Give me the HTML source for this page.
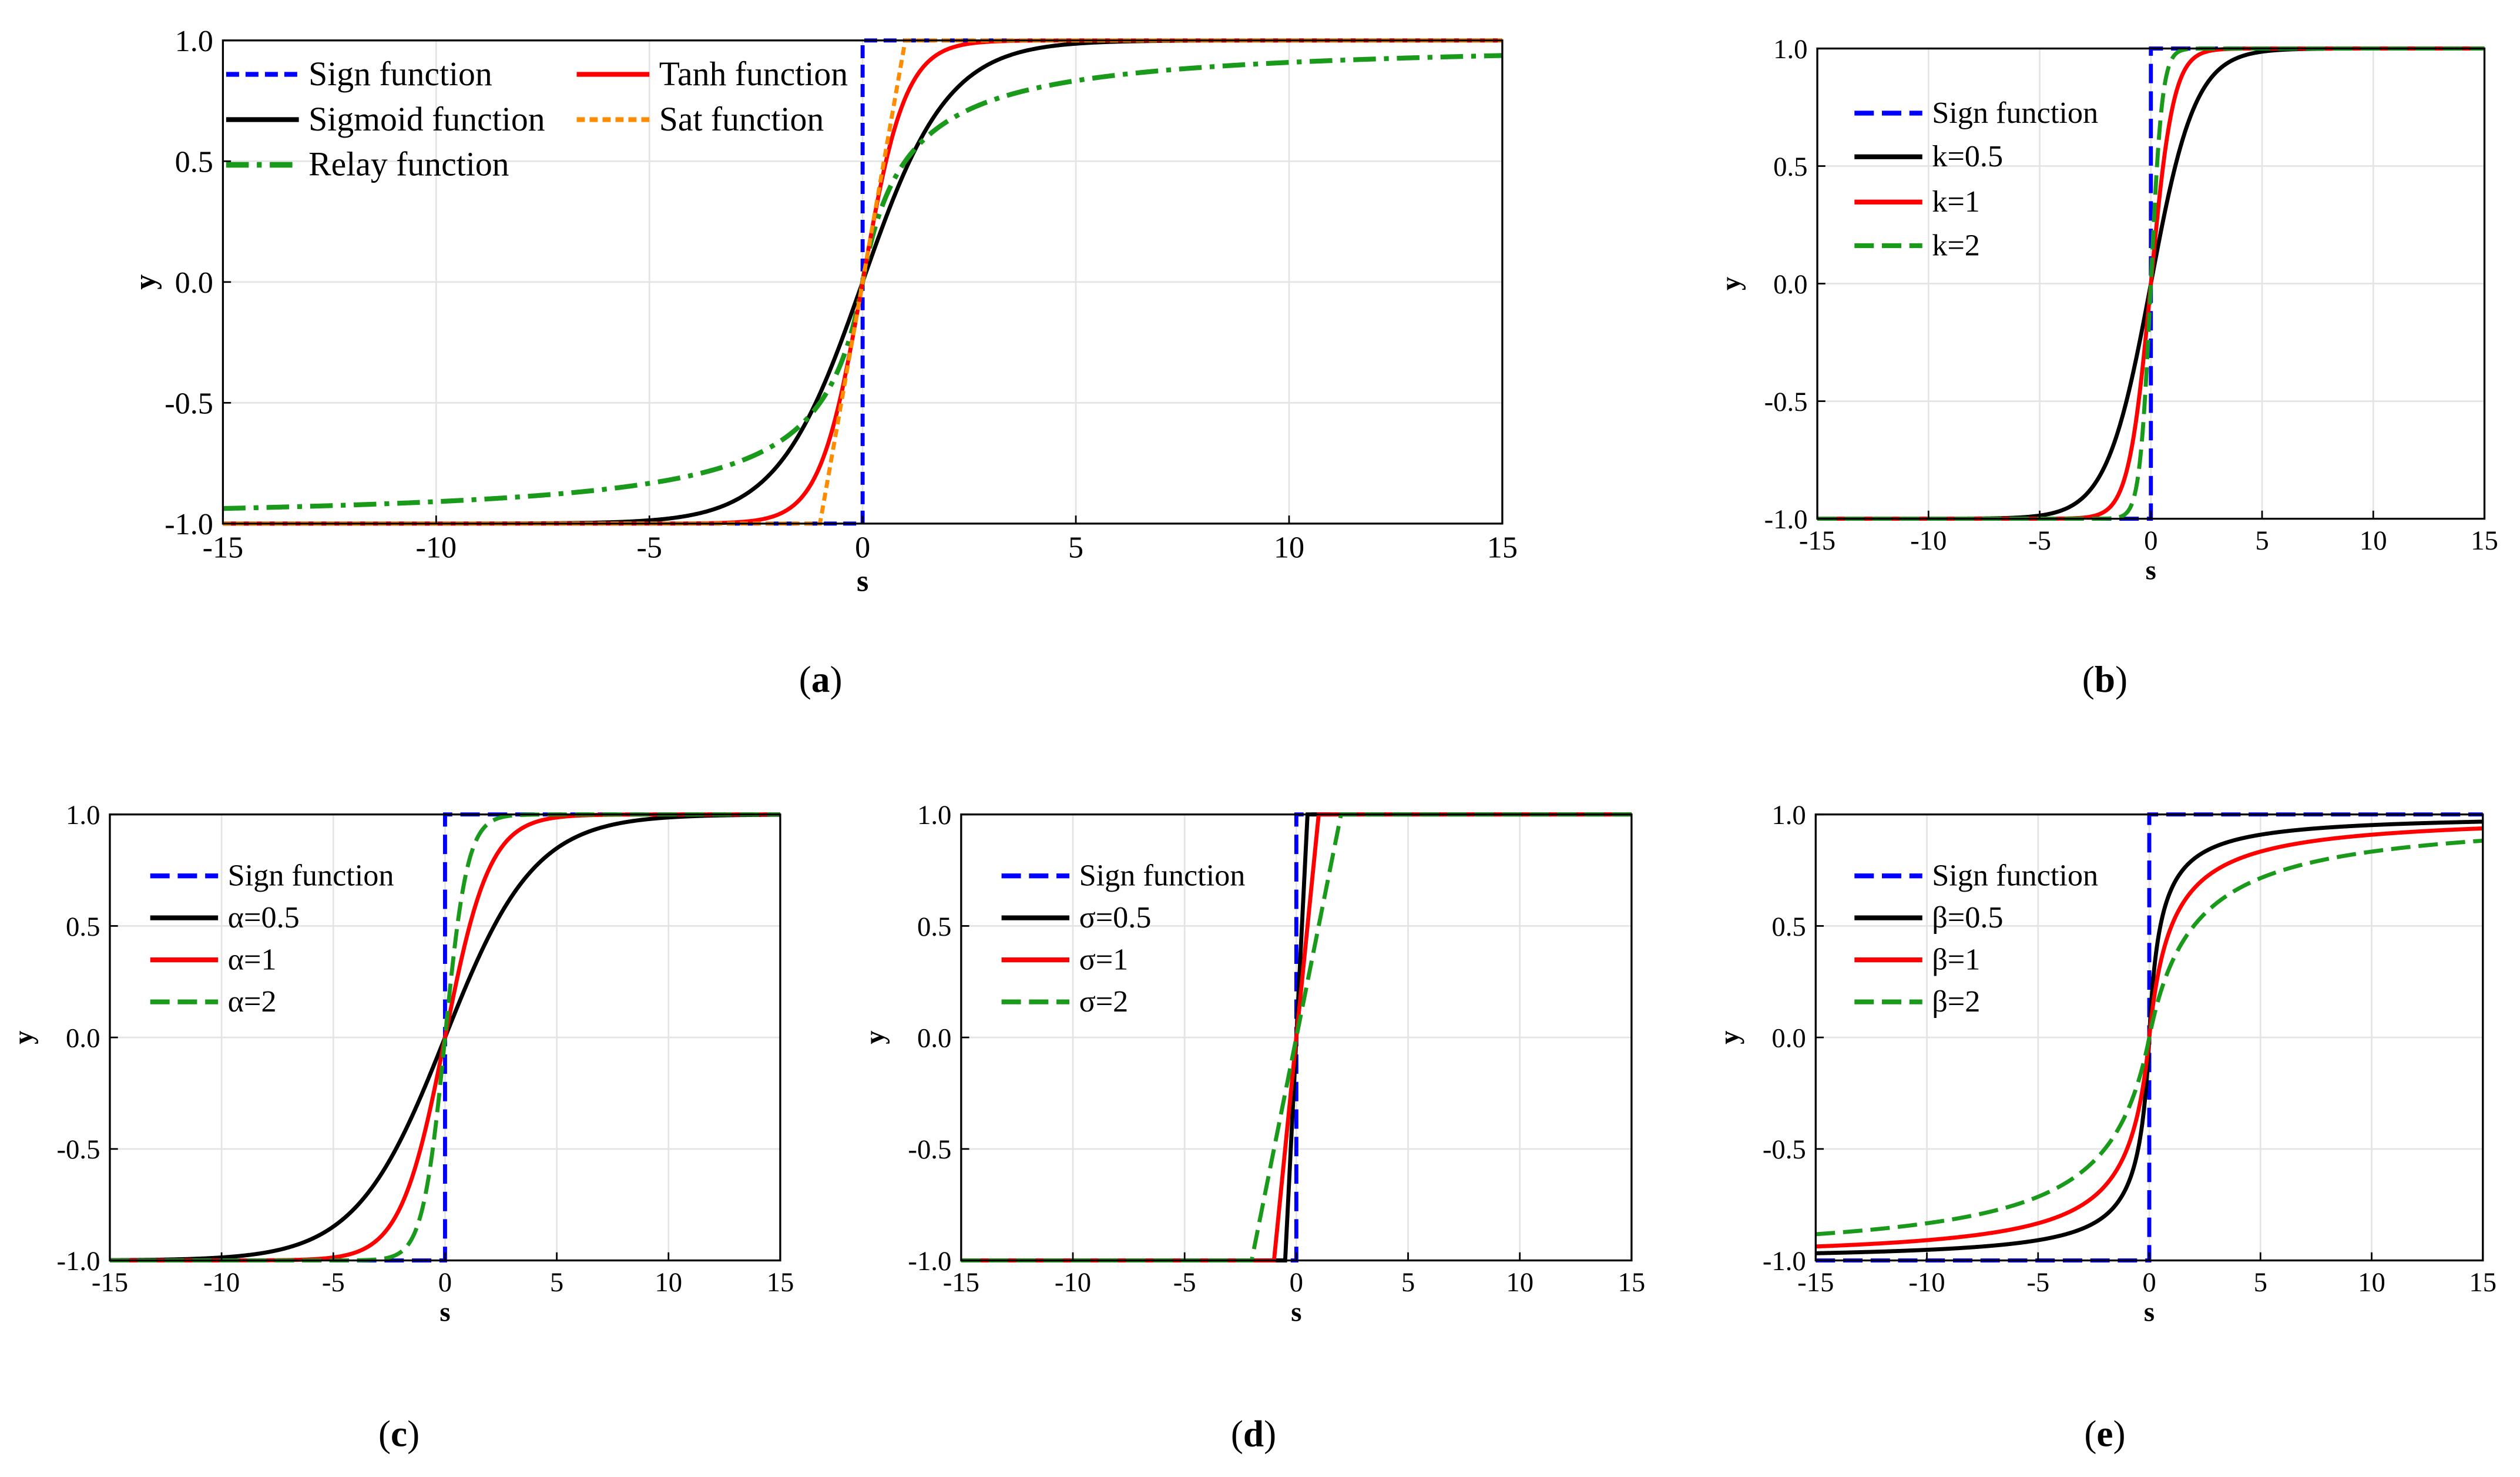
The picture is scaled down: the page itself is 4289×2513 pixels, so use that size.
<!DOCTYPE html>
<html><head><meta charset="utf-8"><style>
html,body{margin:0;padding:0;background:#fff}
svg{display:block}
text{font-family:"Liberation Serif",serif;fill:#000}
</style></head><body>
<svg id="fig" width="4289" height="2513" viewBox="0 0 1560 914" xmlns="http://www.w3.org/2000/svg"></svg>
<script>
// ---- data arrays ----
const xTicks = [-15,-10,-5,0,5,10,15];
const yTicks = [-1.0,-0.5,0.0,0.5,1.0];
const yTickLabels = ["-1.0","-0.5","0.0","0.5","1.0"];
const kValues = [0.5,1,2];
const alphaValues = [0.5,1,2];
const sigmaValues = [0.5,1,2];
const betaValues = [0.5,1,2];
const relayDelta = [1];
const panelLetters = ["a","b","c","d","e"];

const NS="http://www.w3.org/2000/svg";
const svg=document.getElementById('fig');
function el(tag,attrs,parent){const e=document.createElementNS(NS,tag);for(const k in attrs)e.setAttribute(k,attrs[k]);(parent||svg).appendChild(e);return e;}

const sign=s=>s>0?1:(s<0?-1:0);
const clip=v=>Math.max(-1,Math.min(1,v));

const panels=[
 {id:'a',x0:138,x1:930,y0:25,y1:324,fs:19,lab:[508,428],
  series:[
   {name:'Sign function',color:'#0000ff',dash:'8,4',w:2.5,f:sign,sign:true},
   {name:'Sigmoid function',color:'#000',dash:'',w:2.5,f:s=>Math.tanh(s/2)},
   {name:'Relay function',color:'#1a9a1a',dash:'14,5,3,5',w:3,f:s=>s/(Math.abs(s)+relayDelta[0])},
   {name:'Tanh function',color:'#ff0000',dash:'',w:2.5,f:s=>Math.tanh(s)},
   {name:'Sat function',color:'#ff8c00',dash:'5,3',w:2.5,f:s=>clip(s)}],
  legend:[[140,46],[140,74],[140,102],[357,46],[357,74]],ll:45},
 {id:'b',x0:1125,x1:1538,y0:30,y1:321,fs:17,lab:[1303,428],
  series:[
   {name:'Sign function',color:'#0000ff',dash:'12,5',w:2.5,f:sign,sign:true},
   ...kValues.map((k,i)=>({name:'k='+k,color:['#000','#ff0000','#1a9a1a'][i],dash:['','','12,5'][i],w:2.5,f:s=>Math.tanh(k*s)}))],
  legend:[[1148,70],[1148,97],[1148,125],[1148,152]],ll:42},
 {id:'c',x0:68,x1:483,y0:504,y1:780,fs:17,lab:[247,895],
  series:[
   {name:'Sign function',color:'#0000ff',dash:'12,5',w:2.5,f:sign,sign:true},
   ...alphaValues.map((a,i)=>({name:'α='+a,color:['#000','#ff0000','#1a9a1a'][i],dash:['','','12,5'][i],w:2.5,f:s=>Math.tanh(a*s/2)}))],
  legend:[[93,542],[93,568],[93,594],[93,620]],ll:42},
 {id:'d',x0:595,x1:1010,y0:504,y1:780,fs:17,lab:[776,895],
  series:[
   {name:'Sign function',color:'#0000ff',dash:'12,5',w:2.5,f:sign,sign:true},
   ...sigmaValues.map((g,i)=>({name:'σ='+g,color:['#000','#ff0000','#1a9a1a'][i],dash:['','','12,5'][i],w:2.5,f:s=>clip(s/g)}))],
  legend:[[620,542],[620,568],[620,594],[620,620]],ll:42},
 {id:'e',x0:1124,x1:1537,y0:504,y1:780,fs:17,lab:[1303,895],
  series:[
   {name:'Sign function',color:'#0000ff',dash:'12,5',w:2.5,f:sign,sign:true},
   ...betaValues.map((b,i)=>({name:'β='+b,color:['#000','#ff0000','#1a9a1a'][i],dash:['','','12,5'][i],w:2.5,f:s=>s/(Math.abs(s)+b)}))],
  legend:[[1148,542],[1148,568],[1148,594],[1148,620]],ll:42}
];

panels.forEach((p,pi)=>{
 const g=el('g',{});
 
 
 const X=v=>p.x0+(v+15)/30*(p.x1-p.x0);
 const Y=v=>p.y1-(v+1)/2*(p.y1-p.y0);
 xTicks.forEach(t=>{const l=el('line',{x1:X(t),x2:X(t),y1:p.y0,y2:p.y1,stroke:'#e4e4e4','stroke-width':1},g);
  });
 yTicks.forEach(t=>{const l=el('line',{x1:p.x0,x2:p.x1,y1:Y(t),y2:Y(t),stroke:'#e4e4e4','stroke-width':1},g);
  });
 p.series.forEach(s=>{
  let d='';
  if(s.sign){d=`M${X(-15)},${Y(-1)}L${X(0)},${Y(-1)}L${X(0)},${Y(1)}L${X(15)},${Y(1)}`;}
  else{for(let i=0;i<=1200;i++){const v=-15+30*i/1200;d+=(i?'L':'M')+X(v).toFixed(2)+','+Y(s.f(v)).toFixed(2);}}
  const path=el('path',{d:d,fill:'none',stroke:s.color,'stroke-width':s.w,'stroke-dasharray':s.dash},g);
  
  
 });
 const fr=el('rect',{x:p.x0,y:p.y0,width:p.x1-p.x0,height:p.y1-p.y0,fill:'none',stroke:'#000','stroke-width':1.2},g);
 
 xTicks.forEach(t=>{
  el('line',{x1:X(t),x2:X(t),y1:p.y1,y2:p.y1-5,stroke:'#000','stroke-width':1},g);
  const tx=el('text',{x:X(t),y:p.y1+p.fs+2,'text-anchor':'middle','font-size':p.fs},g);tx.textContent=t;
  
 });
 yTicks.forEach((t,i)=>{
  el('line',{x1:p.x0,x2:p.x0+5,y1:Y(t),y2:Y(t),stroke:'#000','stroke-width':1},g);
  const tx=el('text',{x:p.x0-6,y:Y(t)+p.fs*0.35,'text-anchor':'end','font-size':p.fs},g);tx.textContent=yTickLabels[i];
  
 });
 const xt=el('text',{x:(p.x0+p.x1)/2,y:p.y1+p.fs*2.2,'text-anchor':'middle','font-size':p.fs,'font-weight':'bold'},g);xt.textContent='s';
 
 const yx=p.x0-(p.id==='a'?42:48), yy=(p.y0+p.y1)/2;
 const yt=el('text',{x:yx,y:yy,'text-anchor':'middle','font-size':p.fs,'font-weight':'bold',transform:`rotate(-90 ${yx} ${yy})`},g);yt.textContent='y';
 
 p.series.forEach((s,i)=>{
  const [lx,ly]=p.legend[i];
  const lg=el('g',{},g);
  
  el('line',{x1:lx,x2:lx+p.ll,y1:ly,y2:ly,stroke:s.color,'stroke-width':s.w+0.5,'stroke-dasharray':s.dash},lg);
  const t=el('text',{x:lx+p.ll+6,y:ly+p.fs*0.35,'font-size':p.fs+2},lg);t.textContent=s.name;
 });
 const pl=el('text',{x:p.lab[0],y:p.lab[1],'text-anchor':'middle','font-size':23},g);
 
 const o=el('tspan',{},pl);o.textContent='(';
 const b=el('tspan',{'font-weight':'bold'},pl);b.textContent=panelLetters[pi];
 const c=el('tspan',{},pl);c.textContent=')';
});
</script>
</body></html>
